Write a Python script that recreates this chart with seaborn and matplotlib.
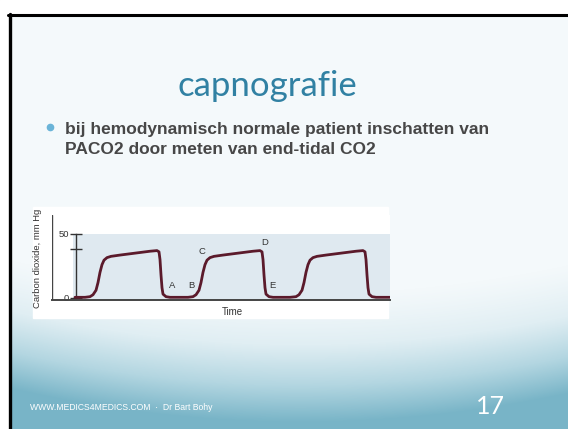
import numpy as np
import pandas as pd
import matplotlib.pyplot as plt
import matplotlib.colors as mcolors
import seaborn as sns

# capnogram trace (time in arbitrary units, CO2 in mm Hg)
time = [23, 33, 38, 41, 44, 46, 48, 50, 52, 55, 59, 68, 83, 98, 105, 107, 108, 109, 110, 111, 114, 118,
        136, 141, 144, 147, 149, 151, 153, 155, 158, 162, 171, 186, 201, 208, 210, 211, 212, 213, 214, 217, 221,
        238, 244, 247, 250, 252, 254, 256, 258, 261, 265, 274, 289, 304, 311, 313, 314, 315, 316, 317, 320, 324, 338]
co2 = [0.5, 0.5, 1, 2.5, 6, 12, 20, 26, 29.5, 31.5, 32.5, 33.5, 35, 36.5, 37, 36, 30, 18, 8, 3, 1, 0.5,
       0.5, 1, 2.5, 6, 12, 20, 26, 29.5, 31.5, 32.5, 33.5, 35, 36.5, 37, 36, 30, 18, 8, 3, 1, 0.5,
       0.5, 1, 2.5, 6, 12, 20, 26, 29.5, 31.5, 32.5, 33.5, 35, 36.5, 37, 36, 30, 18, 8, 3, 1, 0.5, 0.5]

phase_labels = ['A', 'B', 'C', 'D', 'E']
phase_time = [120, 139, 150, 213, 220]
phase_co2 = [10, 10, 36, 43, 9.5]

ytick_vals = [0, 38, 50]
ytick_text = ['0', '', '50']

title = 'capnografie'
bullet_lines = ['bij hemodynamisch normale patient inschatten van',
                'PACO2 door meten van end-tidal CO2']
footer = 'WWW.MEDICS4MEDICS.COM  ·  Dr Bart Bohy'
page = '17'

sns.set_style('white')
plt.rcParams['font.family'] = ['Liberation Sans', 'DejaVu Sans']

W, H = 568, 429
fig = plt.figure(figsize=(W / 100, H / 100), dpi=100)

# slide background
bg = fig.add_axes([0, 0, 1, 1])
bg.set_xlim(0, W)
bg.set_ylim(H, 0)
bg.axis('off')
yy, xx = np.mgrid[0:H, 0:W]
s = (yy - 292 + 0.0004 * (xx - 300) ** 2) / 130
s = np.clip(s, 0, 1) ** 1.2
cmap = mcolors.LinearSegmentedColormap.from_list('slide', ['#f4f9fb', '#e0eef3', '#b3d6e1', '#78b4c7'])
bg.imshow(s, cmap=cmap, extent=(0, W, H, 0), aspect='auto', vmin=0, vmax=1)
bg.add_patch(plt.Rectangle((0, 0), W, 14, color='white', zorder=2))
bg.add_patch(plt.Rectangle((0, 0), 8, H, color='white', zorder=2))
bg.plot([8, W], [15, 15], color='black', lw=2.2, zorder=3)
bg.plot([9.5, 9.5], [14, H], color='black', lw=2.4, zorder=3)
# figure picture area
bg.add_patch(plt.Rectangle((33, 207), 355, 111, color='white', zorder=2))

bg.text(267, 86, title, ha='center', va='center', fontsize=25, color='#3181a3',
        family=['Lato', 'DejaVu Sans'], zorder=4)
bg.plot([50], [127], 'o', color='#6ab4d8', ms=4.5, zorder=4)
for line, base in zip(bullet_lines, [134, 154]):
    bg.text(65, base, line, ha='left', va='baseline', fontsize=12.5, color='#474747',
            fontweight='bold', zorder=4)
bg.text(30, 407, footer, ha='left', va='center', fontsize=6.2, color='white', zorder=4)
bg.text(505, 406, page, ha='right', va='center', fontsize=18, color='white',
        family=['Lato', 'DejaVu Sans'], zorder=4)
bg.text(37, 258, 'Carbon dioxide, mm Hg', rotation=90, ha='center', va='center',
        fontsize=6.8, color='#333333', zorder=4)
bg.text(232, 312, 'Time', ha='center', va='center', fontsize=7, color='#333333', zorder=4)

# capnogram axes
ax = fig.add_axes([52 / W, (H - 300) / H, (390 - 52) / W, 85 / H])
ax.set_facecolor('white')
ax.set_xlim(0, 338)
ax.set_ylim(-1.6, 64.8)
ax.axhspan(-1.6, 50, xmin=21 / 338, xmax=1, color='#dfe9f0', lw=0, zorder=0)

df = pd.DataFrame({'time': time, 'co2': co2})
sns.lineplot(data=df, x='time', y='co2', ax=ax, estimator=None, sort=False,
             color='#5b1a2b', lw=2.0, zorder=3)

for lab, tx, ty in zip(phase_labels, phase_time, phase_co2):
    ax.text(tx, ty, lab, ha='center', va='center', fontsize=6.8, color='#333333')

ax.spines['top'].set_visible(False)
ax.spines['right'].set_visible(False)
ax.spines['left'].set_position(('data', 24))
ax.spines['left'].set_bounds(0, 50)
ax.spines['left'].set_color('#333333')
ax.spines['left'].set_linewidth(1.0)
ax.spines['bottom'].set_color('#444444')
ax.spines['bottom'].set_linewidth(1.4)
ax.axvline(0, color='#444444', lw=1.0)
ax.set_yticks(ytick_vals)
ax.set_yticklabels(ytick_text)
ax.tick_params(axis='y', direction='inout', length=8, width=1.0, color='#333333',
               labelsize=6.8, labelcolor='#333333', pad=1, left=True)
ax.set_xticks([])
ax.set_xlabel('')
ax.set_ylabel('')

fig.savefig('out.png', dpi=100)
